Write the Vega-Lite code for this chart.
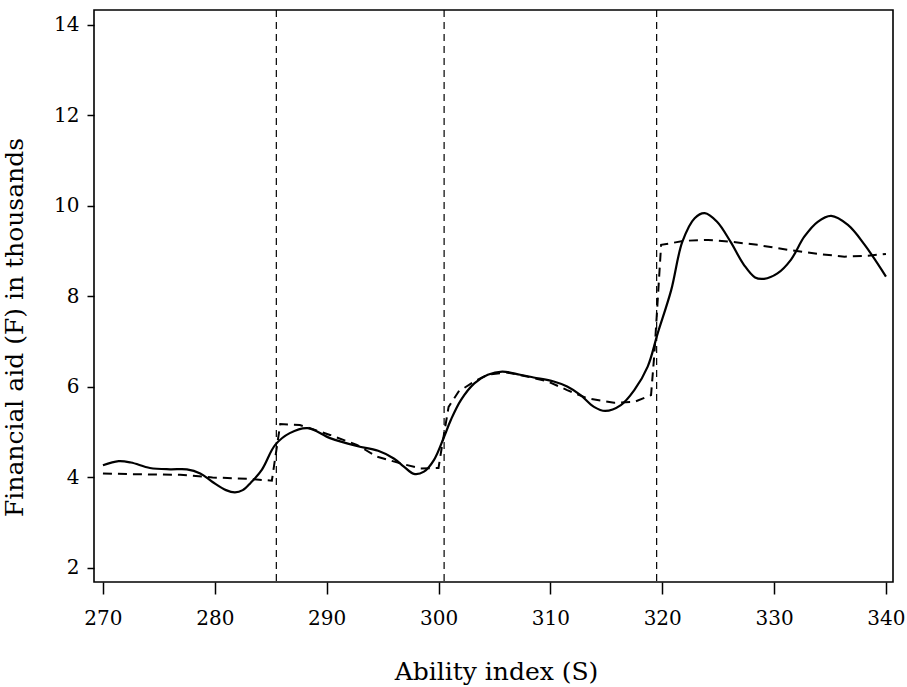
{
  "$schema": "https://vega.github.io/schema/vega-lite/v6.json",
  "width": 799,
  "height": 572,
  "autosize": "none",
  "padding": {"left": 94, "top": 10, "right": 14, "bottom": 105},
  "background": "white",
  "config": {
    "view": {"stroke": "black", "strokeWidth": 1.6},
    "font": "DejaVu Serif"
  },
  "datasets": {
    "curves": [
      {"x": 270.0, "y": 4.27, "series": "kernel"},
      {"x": 271.4, "y": 4.36, "series": "kernel"},
      {"x": 272.5, "y": 4.33, "series": "kernel"},
      {"x": 274.2, "y": 4.21, "series": "kernel"},
      {"x": 276.0, "y": 4.18, "series": "kernel"},
      {"x": 277.5, "y": 4.18, "series": "kernel"},
      {"x": 278.7, "y": 4.09, "series": "kernel"},
      {"x": 279.8, "y": 3.9, "series": "kernel"},
      {"x": 281.0, "y": 3.72, "series": "kernel"},
      {"x": 281.8, "y": 3.67, "series": "kernel"},
      {"x": 282.5, "y": 3.72, "series": "kernel"},
      {"x": 283.2, "y": 3.88, "series": "kernel"},
      {"x": 284.2, "y": 4.17, "series": "kernel"},
      {"x": 285.4, "y": 4.72, "series": "kernel"},
      {"x": 286.7, "y": 4.98, "series": "kernel"},
      {"x": 288.3, "y": 5.09, "series": "kernel"},
      {"x": 290.3, "y": 4.87, "series": "kernel"},
      {"x": 292.6, "y": 4.7, "series": "kernel"},
      {"x": 294.6, "y": 4.59, "series": "kernel"},
      {"x": 296.0, "y": 4.42, "series": "kernel"},
      {"x": 296.9, "y": 4.24, "series": "kernel"},
      {"x": 297.8, "y": 4.08, "series": "kernel"},
      {"x": 298.7, "y": 4.13, "series": "kernel"},
      {"x": 299.6, "y": 4.39, "series": "kernel"},
      {"x": 300.5, "y": 4.9, "series": "kernel"},
      {"x": 301.1, "y": 5.27, "series": "kernel"},
      {"x": 302.0, "y": 5.71, "series": "kernel"},
      {"x": 303.2, "y": 6.08, "series": "kernel"},
      {"x": 304.4, "y": 6.27, "series": "kernel"},
      {"x": 305.7, "y": 6.34, "series": "kernel"},
      {"x": 307.3, "y": 6.27, "series": "kernel"},
      {"x": 308.5, "y": 6.21, "series": "kernel"},
      {"x": 310.3, "y": 6.12, "series": "kernel"},
      {"x": 311.5, "y": 6.01, "series": "kernel"},
      {"x": 312.7, "y": 5.82, "series": "kernel"},
      {"x": 313.9, "y": 5.56, "series": "kernel"},
      {"x": 314.9, "y": 5.47, "series": "kernel"},
      {"x": 316.3, "y": 5.6, "series": "kernel"},
      {"x": 317.5, "y": 5.93, "series": "kernel"},
      {"x": 318.7, "y": 6.45, "series": "kernel"},
      {"x": 319.6, "y": 7.19, "series": "kernel"},
      {"x": 320.8, "y": 8.14, "series": "kernel"},
      {"x": 321.8, "y": 9.21, "series": "kernel"},
      {"x": 322.9, "y": 9.73, "series": "kernel"},
      {"x": 323.8, "y": 9.84, "series": "kernel"},
      {"x": 324.9, "y": 9.65, "series": "kernel"},
      {"x": 326.1, "y": 9.21, "series": "kernel"},
      {"x": 327.3, "y": 8.7, "series": "kernel"},
      {"x": 328.3, "y": 8.42, "series": "kernel"},
      {"x": 329.1, "y": 8.39, "series": "kernel"},
      {"x": 330.3, "y": 8.51, "series": "kernel"},
      {"x": 331.5, "y": 8.81, "series": "kernel"},
      {"x": 332.7, "y": 9.32, "series": "kernel"},
      {"x": 333.9, "y": 9.65, "series": "kernel"},
      {"x": 335.1, "y": 9.78, "series": "kernel"},
      {"x": 336.6, "y": 9.58, "series": "kernel"},
      {"x": 338.1, "y": 9.14, "series": "kernel"},
      {"x": 340.0, "y": 8.44, "series": "kernel"},
      {"x": 270.0, "y": 4.09, "series": "local"},
      {"x": 273.0, "y": 4.07, "series": "local"},
      {"x": 276.9, "y": 4.06, "series": "local"},
      {"x": 279.8, "y": 4.0, "series": "local"},
      {"x": 282.9, "y": 3.97, "series": "local"},
      {"x": 285.1, "y": 3.93, "series": "local"},
      {"x": 285.85, "y": 5.18, "series": "local"},
      {"x": 287.6, "y": 5.16, "series": "local"},
      {"x": 290.3, "y": 4.94, "series": "local"},
      {"x": 292.7, "y": 4.72, "series": "local"},
      {"x": 294.5, "y": 4.46, "series": "local"},
      {"x": 296.6, "y": 4.31, "series": "local"},
      {"x": 298.4, "y": 4.2, "series": "local"},
      {"x": 300.0, "y": 4.21, "series": "local"},
      {"x": 300.3, "y": 4.68, "series": "local"},
      {"x": 300.9, "y": 5.56, "series": "local"},
      {"x": 301.8, "y": 5.9, "series": "local"},
      {"x": 303.2, "y": 6.12, "series": "local"},
      {"x": 304.4, "y": 6.27, "series": "local"},
      {"x": 306.1, "y": 6.32, "series": "local"},
      {"x": 307.9, "y": 6.23, "series": "local"},
      {"x": 309.7, "y": 6.13, "series": "local"},
      {"x": 311.5, "y": 5.93, "series": "local"},
      {"x": 313.3, "y": 5.75, "series": "local"},
      {"x": 315.7, "y": 5.65, "series": "local"},
      {"x": 317.5, "y": 5.67, "series": "local"},
      {"x": 319.0, "y": 5.82, "series": "local"},
      {"x": 319.3, "y": 6.74, "series": "local"},
      {"x": 319.9, "y": 9.14, "series": "local"},
      {"x": 322.0, "y": 9.23, "series": "local"},
      {"x": 324.1, "y": 9.25, "series": "local"},
      {"x": 326.1, "y": 9.21, "series": "local"},
      {"x": 328.5, "y": 9.14, "series": "local"},
      {"x": 331.2, "y": 9.03, "series": "local"},
      {"x": 333.9, "y": 8.94, "series": "local"},
      {"x": 336.3, "y": 8.88, "series": "local"},
      {"x": 338.4, "y": 8.9, "series": "local"},
      {"x": 340.0, "y": 8.94, "series": "local"}
    ],
    "cutoffs": [
      {"x": 285.5},
      {"x": 300.5},
      {"x": 319.5}
    ]
  },
  "layer": [
    {
      "data": {"name": "cutoffs"},
      "mark": {"type": "rule", "color": "black", "strokeWidth": 1.2, "strokeDash": [7, 5]},
      "encoding": {
        "x": {"field": "x", "type": "quantitative", "scale": {"domain": [269.2, 340.63], "nice": false, "zero": false}}
      }
    },
    {
      "data": {"name": "curves"},
      "transform": [{"filter": "datum.series === 'local'"}],
      "mark": {"type": "line", "color": "black", "strokeWidth": 2, "strokeDash": [9, 6], "interpolate": "linear", "clip": true},
      "encoding": {
        "x": {"field": "x", "type": "quantitative"},
        "y": {"field": "y", "type": "quantitative"}
      }
    },
    {
      "data": {"name": "curves"},
      "transform": [{"filter": "datum.series === 'kernel'"}],
      "mark": {"type": "line", "color": "black", "strokeWidth": 2.2, "interpolate": "catmull-rom", "clip": true},
      "encoding": {
        "x": {
          "field": "x", "type": "quantitative",
          "scale": {"domain": [269.2, 340.63], "nice": false, "zero": false},
          "axis": {
            "title": "Ability index (S)",
            "values": [270, 280, 290, 300, 310, 320, 330, 340],
            "grid": false, "domain": false,
            "tickColor": "black", "tickWidth": 1.5, "tickSize": 12,
            "labelFont": "DejaVu Serif", "labelFontSize": 20, "labelColor": "black",
            "labelPadding": 14,
            "titleFont": "DejaVu Serif", "titleFontSize": 25, "titleFontWeight": "normal", "titleColor": "black",
            "titleBaseline": "alphabetic", "titleY": 97, "titleX": 402
          }
        },
        "y": {
          "field": "y", "type": "quantitative",
          "scale": {"domain": [1.69, 14.33], "nice": false, "zero": false},
          "axis": {
            "title": "Financial aid (F) in thousands",
            "values": [2, 4, 6, 8, 10, 12, 14],
            "grid": false, "domain": false,
            "tickColor": "black", "tickWidth": 1.5, "tickSize": 7,
            "labelFont": "DejaVu Serif", "labelFontSize": 20, "labelColor": "black",
            "labelPadding": 8,
            "titleFont": "DejaVu Serif", "titleFontSize": 25, "titleFontWeight": "normal", "titleColor": "black",
            "titleBaseline": "alphabetic", "titleX": -72, "titleY": 317, "titleAngle": -90
          }
        }
      }
    }
  ]
}
